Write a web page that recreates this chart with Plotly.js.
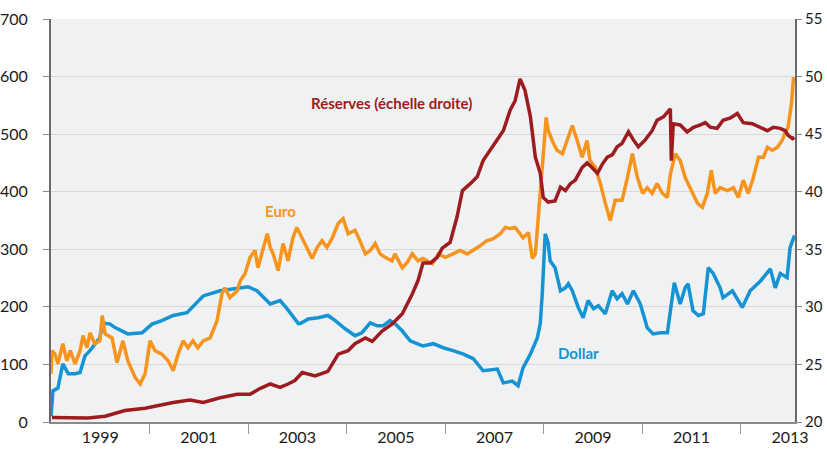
<!DOCTYPE html>
<html>
<head>
<meta charset="utf-8">
<script src="https://cdn.plot.ly/plotly-3.0.1.min.js"></script>
<style>html,body{margin:0;padding:0;background:#fff;}#chart{width:827px;height:452px;}</style>
</head>
<body>
<div id="chart"></div>
<script>
// Dollar (left axis)
const dollarYears = [1998.00,1998.04,1998.14,1998.24,1998.35,1998.49,1998.59,1998.69,1998.79,1998.89,1998.99,1999.06,1999.20,1999.30,1999.56,1999.85,2000.05,2000.25,2000.48,2000.76,2001.09,2001.43,2001.78,2002.00,2002.18,2002.45,2002.65,2002.79,2003.02,2003.06,2003.22,2003.42,2003.62,2003.77,2003.97,2004.17,2004.31,2004.48,2004.62,2004.74,2004.88,2004.98,2005.13,2005.29,2005.43,2005.55,2005.76,2005.96,2006.16,2006.37,2006.57,2006.77,2007.06,2007.18,2007.36,2007.48,2007.58,2007.73,2007.87,2007.93,2007.97,2008.03,2008.09,2008.13,2008.23,2008.34,2008.44,2008.50,2008.58,2008.70,2008.80,2008.90,2009.01,2009.11,2009.25,2009.39,2009.49,2009.59,2009.70,2009.82,2009.96,2010.10,2010.22,2010.37,2010.51,2010.57,2010.65,2010.77,2010.87,2010.93,2011.03,2011.14,2011.24,2011.34,2011.44,2011.58,2011.64,2011.83,2012.03,2012.19,2012.40,2012.60,2012.70,2012.80,2012.94,2013.00,2013.09];
const dollarValues = [10,54,59,101,84,84,86,115,124,136,146,172,170,164,153,155,170,176,185,190,219,228,233,235,228,205,211,197,171,171,179,181,185,176,162,150,155,172,167,167,176,171,158,141,136,132,136,129,124,118,110,89,92,68,71,63,94,118,146,171,222,327,311,280,268,228,233,240,228,199,181,211,197,202,188,228,214,223,205,228,205,164,153,155,155,190,242,205,233,240,193,185,188,268,258,233,216,228,199,228,245,266,233,258,251,303,324];

// Euro (left axis)
const euroYears = [1998.00,1998.02,1998.08,1998.14,1998.24,1998.32,1998.39,1998.49,1998.59,1998.65,1998.73,1998.79,1998.89,1998.99,1999.04,1999.10,1999.24,1999.34,1999.46,1999.56,1999.71,1999.81,1999.91,2000.01,2000.11,2000.25,2000.38,2000.48,2000.58,2000.68,2000.78,2000.88,2000.98,2001.09,2001.23,2001.37,2001.47,2001.53,2001.63,2001.78,2001.84,2001.94,2002.04,2002.14,2002.20,2002.28,2002.39,2002.45,2002.51,2002.61,2002.71,2002.81,2002.91,2002.99,2003.10,2003.22,2003.30,2003.40,2003.50,2003.60,2003.71,2003.83,2003.93,2004.03,2004.17,2004.27,2004.38,2004.48,2004.58,2004.68,2004.78,2004.92,2004.98,2005.13,2005.23,2005.33,2005.45,2005.55,2005.63,2005.74,2005.86,2006.00,2006.16,2006.30,2006.45,2006.57,2006.71,2006.85,2006.97,2007.12,2007.22,2007.32,2007.42,2007.52,2007.58,2007.69,2007.77,2007.83,2007.89,2007.97,2008.05,2008.09,2008.17,2008.27,2008.38,2008.48,2008.58,2008.68,2008.78,2008.88,2008.94,2009.05,2009.15,2009.25,2009.35,2009.45,2009.59,2009.70,2009.80,2009.90,2010.01,2010.10,2010.20,2010.30,2010.41,2010.51,2010.57,2010.67,2010.77,2010.87,2011.02,2011.12,2011.22,2011.32,2011.40,2011.48,2011.58,2011.73,2011.85,2011.95,2012.05,2012.15,2012.25,2012.36,2012.46,2012.54,2012.64,2012.74,2012.84,2012.90,2012.96,2013.03,2013.07];
const euroValues = [84,124,118,101,136,106,124,101,124,150,129,155,136,141,185,153,146,103,141,106,77,66,84,141,124,118,106,89,118,141,129,141,129,141,146,176,223,233,216,228,245,258,286,298,268,292,327,303,292,263,310,280,320,338,320,298,284,303,315,303,320,345,353,327,333,315,292,298,310,292,286,280,292,268,277,292,280,284,280,275,292,286,292,298,292,298,306,315,318,327,338,336,338,327,320,329,284,292,350,442,529,507,489,472,466,489,515,489,460,489,454,442,414,380,350,385,385,425,466,425,397,407,397,414,397,390,430,466,454,425,397,380,373,397,437,397,407,402,407,390,420,397,423,460,460,477,472,477,489,503,512,554,599];

// Réserves (right axis)
const reservesYears = [1998.02,1998.55,1998.75,1999.10,1999.50,1999.91,2000.25,2000.48,2000.82,2001.09,2001.43,2001.78,2002.04,2002.24,2002.45,2002.65,2002.81,2002.95,2003.10,2003.36,2003.62,2003.83,2004.03,2004.17,2004.38,2004.52,2004.72,2004.92,2005.13,2005.33,2005.45,2005.55,2005.70,2005.84,2005.94,2006.10,2006.24,2006.35,2006.51,2006.65,2006.77,2006.91,2007.06,2007.18,2007.32,2007.42,2007.52,2007.62,2007.73,2007.83,2007.93,2007.99,2008.09,2008.23,2008.34,2008.44,2008.54,2008.64,2008.78,2008.88,2008.98,2009.09,2009.19,2009.29,2009.39,2009.49,2009.59,2009.72,2009.82,2009.92,2010.06,2010.20,2010.30,2010.43,2010.57,2010.59,2010.63,2010.77,2010.91,2011.04,2011.18,2011.28,2011.38,2011.52,2011.64,2011.79,2011.93,2012.05,2012.23,2012.40,2012.54,2012.66,2012.80,2012.90,2012.96,2013.05,2013.09];
const reservesValues = [20.4,20.35,20.35,20.5,21.0,21.2,21.5,21.7,21.9,21.7,22.1,22.4,22.4,22.9,23.3,23.0,23.3,23.6,24.3,24.0,24.4,25.9,26.2,26.8,27.3,27.0,27.9,28.5,29.4,31.1,32.3,33.8,33.8,34.3,35.1,35.6,37.8,40.1,40.7,41.3,42.7,43.6,44.5,45.3,47.1,47.9,49.8,48.8,46.5,43.0,41.6,39.5,39.1,39.2,40.4,40.1,40.7,41.0,42.1,42.5,42.1,41.6,42.4,43.0,43.2,43.9,44.2,45.2,44.5,43.9,44.5,45.3,46.2,46.5,47.2,42.7,45.9,45.8,45.2,45.6,45.8,46.0,45.6,45.5,46.2,46.4,46.8,46.0,45.9,45.6,45.3,45.6,45.5,45.3,44.9,44.6,44.7];

const yearLabels = [1999,2001,2003,2005,2007,2009,2011,2013];
const yearTickMarks = [2000,2002,2004,2006,2008,2010,2012];
const leftTicks = [0,100,200,300,400,500,600,700];
const rightTicks = [20,25,30,35,40,45,50,55];

const cBlue = '#1593d3', cOrange = '#f7941d', cRed = '#9d1c20';
const fontFam = 'Lato, "Noto Sans", sans-serif';

const traces = [
  {x: reservesYears, y: reservesValues, yaxis: 'y2', type: 'scatter', mode: 'lines', line: {color: cRed, width: 3.5}, name: 'Réserves'},
  {x: dollarYears, y: dollarValues, type: 'scatter', mode: 'lines', line: {color: cBlue, width: 3.5}, name: 'Dollar'},
  {x: euroYears, y: euroValues, type: 'scatter', mode: 'lines', line: {color: cOrange, width: 3.5}, name: 'Euro'}
];

const layout = {
  width: 827, height: 452,
  margin: {l: 51, r: 32, t: 19, b: 30},
  paper_bgcolor: '#ffffff', plot_bgcolor: '#f0f1f3',
  showlegend: false,
  font: {family: fontFam, size: 16, color: '#1a1a1a'},
  xaxis: {
    range: [1998, 2013.1], showgrid: false, zeroline: false,
    tickmode: 'array', tickvals: yearLabels, ticktext: yearLabels.map(String),
    ticks: '', showline: true, linecolor: '#8a8a8a', linewidth: 1.5,
    tickfont: {size: 16},
    minor: {tickmode: 'array', tickvals: yearTickMarks, ticks: 'outside', ticklen: 10, tickwidth: 1, tickcolor: '#999', showgrid: false}
  },
  yaxis: {
    range: [0, 700], tickmode: 'array', tickvals: leftTicks,
    showgrid: true, gridcolor: '#d8d9db', gridwidth: 1, zeroline: false,
    showline: true, linecolor: '#6a6a6a', linewidth: 2,
    ticks: 'outside', ticklen: 6, tickcolor: '#888', ticklabelstandoff: 12
  },
  yaxis2: {
    range: [20, 55], overlaying: 'y', side: 'right', tickmode: 'array', tickvals: rightTicks,
    showgrid: false, zeroline: false, showline: true, linecolor: '#6a6a6a', linewidth: 2,
    ticks: 'outside', ticklen: 5, tickcolor: '#888', ticklabelstandoff: 0,
    tickfont: {size: 15}
  },
  annotations: [
    {x: 2004.92, y: 554, xref: 'x', yref: 'y', text: '<b>Réserves (échelle droite)</b>', showarrow: false, font: {color: cRed, size: 15}},
    {x: 2002.65, y: 366, xref: 'x', yref: 'y', text: '<b>Euro</b>', showarrow: false, font: {color: cOrange, size: 15}},
    {x: 2008.70, y: 120, xref: 'x', yref: 'y', text: '<b>Dollar</b>', showarrow: false, font: {color: cBlue, size: 15}}
  ]
};

Plotly.newPlot('chart', traces, layout, {displayModeBar: false, staticPlot: true});
</script>
</body>
</html>
